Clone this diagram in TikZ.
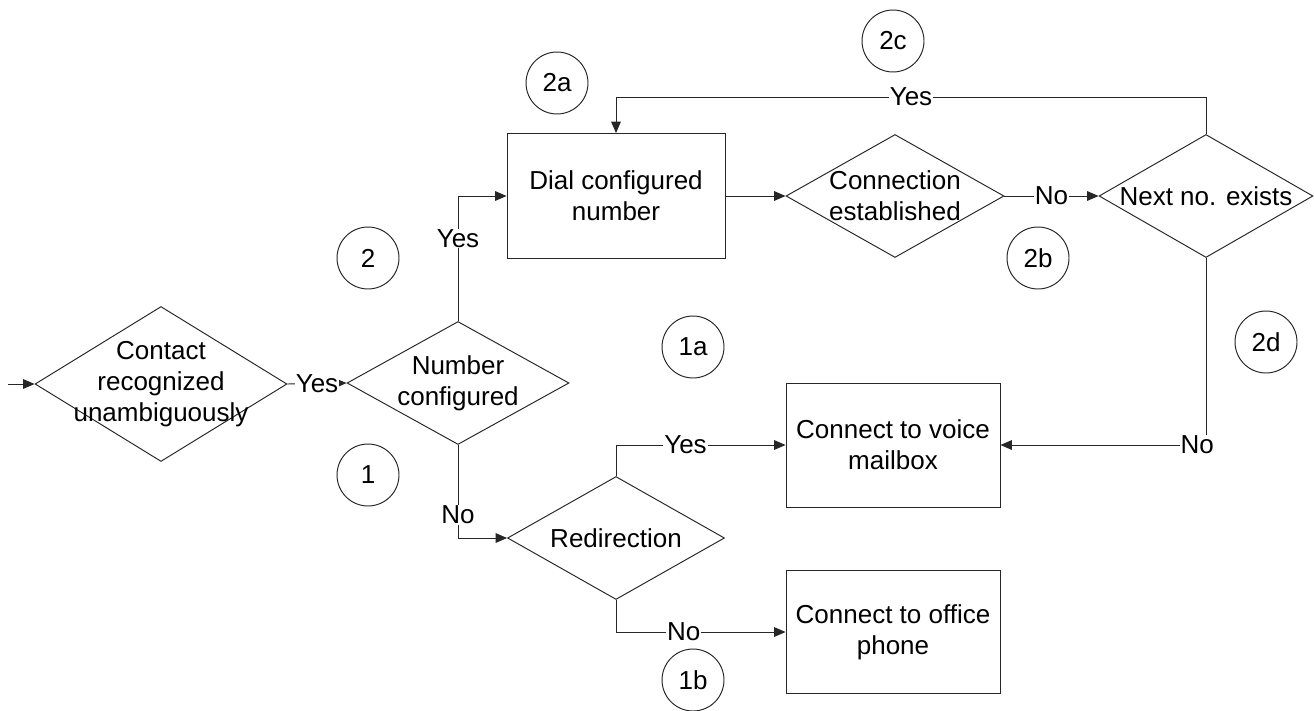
\documentclass[tikz,border=0pt]{standalone}
\usepackage{fontspec}
\setmainfont{Liberation Sans}
\usetikzlibrary{arrows.meta, shapes, positioning}

\begin{document}
\begin{tikzpicture}[x=0.02cm, y=-0.02cm, font=\fontsize{14.8}{17.5}\selectfont, line width=0.55pt,
    decision/.style={draw=black!85, diamond, inner sep=0pt, minimum width=4.36cm, minimum height=2.46cm},
    action/.style={draw=black!85, rectangle, align=center, minimum width=4.28cm, minimum height=2.48cm},
    tag/.style={draw=black!85, circle, inner sep=0pt, minimum size=1.24cm},
    flow/.style={draw=black!85, -{Triangle[length=6.5pt, width=5.5pt]}},
    answer/.style={fill=white, inner sep=0.5pt}]
  \useasboundingbox (0,0) rectangle (1314,710);

  % Entscheidungen
  \node[decision, minimum width=5.04cm, minimum height=3.1cm, label={[align=center]center:Contact\\recognized\\unambiguously}] (contact) at (161,384) {};
  \node[decision, minimum width=4.44cm, label={[align=center]center:Number\\configured}] (numcfg) at (458,383) {};
  \node[decision, label={[align=center]center:Connection\\established}] (conn) at (895,196) {};
  \node[decision, minimum width=4.28cm, label={center:Next no. exists}] (next) at (1206,196) {};
  \node[decision, minimum width=4.34cm, label={center:Redirection}] (redir) at (616,538) {};

  % Aktionen
  \node[action, minimum width=4.36cm, minimum height=2.5cm] (dial) at (616,196) {Dial configured\\number};
  \node[action] (mail) at (893,445) {Connect to voice\\mailbox};
  \node[action, minimum height=2.46cm] (office) at (893,632) {Connect to office\\phone};

  % Markierungen
  \node[tag] (t1) at (368,475) {1};
  \node[tag] (t1a) at (693,347) {1a};
  \node[tag] (t1b) at (693,680) {1b};
  \node[tag] (t2) at (368,258) {2};
  \node[tag] (t2a) at (557,83) {2a};
  \node[tag] (t2b) at (1038,258) {2b};
  \node[tag] (t2c) at (893,41) {2c};
  \node[tag] (t2d) at (1266,342) {2d};

  % Verbindungen
  \coordinate (start) at (8,384);
  \draw[flow] (start) -- (contact.west);
  \draw[flow] (contact.east) -- node[answer] {Yes} (numcfg.west);
  \draw[flow] (numcfg.north) |- node[answer, pos=0.33] {Yes} (dial.west);
  \draw[flow] (dial.east) -- (conn.west);
  \draw[flow] (conn.east) -- node[answer] {No} (next.west);
  \draw[flow] (next.north) -- ++(0,-37) -| node[answer, pos=0.25] {Yes} (dial.north);
  \draw[flow] (next.south) |- node[answer, pos=0.5, xshift=-5pt] {No} (mail.east);
  \draw[flow] (numcfg.south) |- node[answer, pos=0.375] {No} (redir.west);
  \draw[flow] (redir.north) |- node[answer, pos=0.705] {Yes} (mail.west);
  \draw[flow] (redir.south) |- node[answer, pos=0.7] {No} (office.west);
\end{tikzpicture}
\end{document}
